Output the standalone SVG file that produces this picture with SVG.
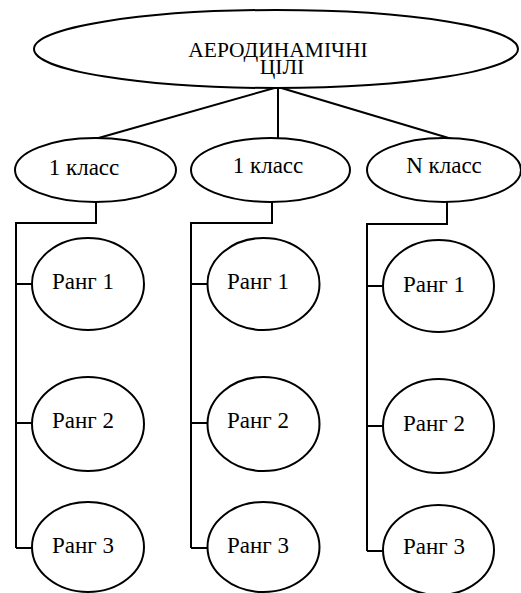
<svg xmlns="http://www.w3.org/2000/svg" width="521" height="593" viewBox="0 0 521 593">
<style>
.n{fill:#fff;stroke:#000;stroke-width:2}
.c{fill:none;stroke:#000;stroke-width:2}
text{font-family:'Liberation Serif','DejaVu Serif',serif;font-size:23px;fill:#000;text-anchor:middle}
.t{font-size:21.5px}
</style>
<rect width="521" height="593" fill="#fff"/>
<g id="connectors">
<path class="c" d="M278,87 L95,139 M278,87 L278,138 M278,87 L452,139"/>
<path class="c" d="M96,191 V223 H16 V548 M16,284 H32 M16,423 H32 M16,548 H32"/>
<path class="c" d="M272,192 V223 H191 V548 M191,284 H208 M191,423 H208 M191,548 H208"/>
<path class="c" d="M447,193 V224 H367 V551 M367,286 H383 M367,426 H383 M367,551 H383"/>
</g>
<g id="root"><ellipse class="n" cx="276" cy="49" rx="242" ry="39"/><text class="t" x="278" y="57" font-family="Liberation Serif, serif">АЕРОДИНАМІЧНІ</text><text class="t" x="282" y="74" font-family="Liberation Serif, serif">ЦІЛІ</text></g>
<g id="class1"><ellipse class="n" cx="95.5" cy="170" rx="80.5" ry="32"/><text x="84" y="175" font-family="Liberation Serif, serif">1 класс</text></g>
<g id="class2"><ellipse class="n" cx="270.5" cy="170" rx="79.5" ry="32"/><text x="268" y="173" font-family="Liberation Serif, serif">1 класс</text></g>
<g id="classN"><ellipse class="n" cx="444" cy="170" rx="77" ry="32"/><text x="444" y="173" font-family="Liberation Serif, serif">N класс</text></g>
<g id="r11"><ellipse class="n" cx="88" cy="284" rx="56" ry="46"/><text x="83" y="289" font-family="Liberation Serif, serif">Ранг 1</text></g>
<g id="r12"><ellipse class="n" cx="88" cy="424" rx="56" ry="47"/><text x="83" y="428" font-family="Liberation Serif, serif">Ранг 2</text></g>
<g id="r13"><ellipse class="n" cx="88" cy="547" rx="56" ry="45"/><text x="83" y="553" font-family="Liberation Serif, serif">Ранг 3</text></g>
<g id="r21"><ellipse class="n" cx="263.5" cy="284" rx="56" ry="46"/><text x="258" y="289" font-family="Liberation Serif, serif">Ранг 1</text></g>
<g id="r22"><ellipse class="n" cx="263.5" cy="424" rx="56" ry="47"/><text x="258" y="428" font-family="Liberation Serif, serif">Ранг 2</text></g>
<g id="r23"><ellipse class="n" cx="263.5" cy="547" rx="56" ry="45"/><text x="258" y="553" font-family="Liberation Serif, serif">Ранг 3</text></g>
<g id="r31"><ellipse class="n" cx="438.5" cy="286" rx="55.5" ry="46"/><text x="434" y="292" font-family="Liberation Serif, serif">Ранг 1</text></g>
<g id="r32"><ellipse class="n" cx="438.5" cy="426" rx="55.5" ry="47"/><text x="434" y="431" font-family="Liberation Serif, serif">Ранг 2</text></g>
<g id="r33"><ellipse class="n" cx="438.5" cy="550" rx="55.5" ry="45"/><text x="434" y="554" font-family="Liberation Serif, serif">Ранг 3</text></g>
</svg>
